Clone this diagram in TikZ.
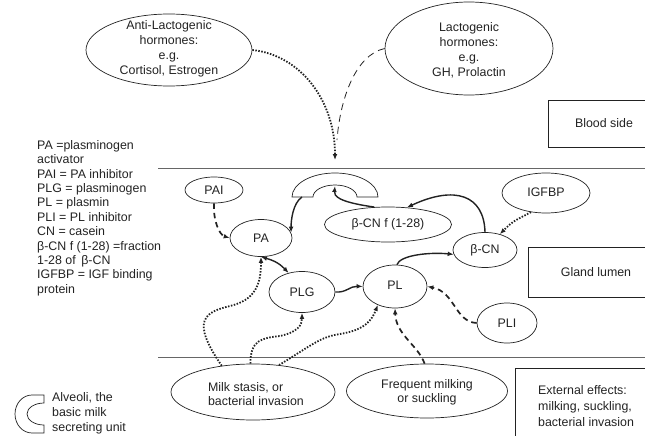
\documentclass[tikz,border=0pt]{standalone}
\usepackage{fontspec}
\setmainfont{Liberation Sans}
\usetikzlibrary{shapes.geometric,arrows.meta}
\definecolor{ink}{HTML}{222222}
\definecolor{rule}{HTML}{666666}
\tikzset{
  ell/.style={draw=ink, ellipse, line width=0.7pt, inner sep=0pt},
  txt/.style={text=ink, align=center, inner sep=0pt, font=\fontsize{12.4}{15}\selectfont},
  ltxt/.style={text=ink, align=left, inner sep=0pt, font=\fontsize{12.4}{14.4}\selectfont},
  boxline/.style={draw=ink, line width=0.7pt},
  tip/.style={-{Latex[length=6pt,width=4.8pt]}},
  solidarr/.style={tip, draw=ink, line width=1.4pt},
  dotarr/.style={tip, draw=ink, line width=1.8pt, dash pattern=on 1.5pt off 1.5pt},
  dasharr/.style={tip, draw=ink, line width=1.7pt, dash pattern=on 5.5pt off 4pt},
  thindash/.style={draw=ink, line width=0.8pt, dash pattern=on 7pt off 5pt},
}
\begin{document}
\begin{tikzpicture}[x=1pt,y=-1pt]
\useasboundingbox (0,0) rectangle (645,436);

% hormone ellipses
\node[ell, minimum width=166, minimum height=72] (anti) at (169,50) {};
\node[txt] (antit) at (169,49) {Anti-Lactogenic\\hormones:\\e.g.\\Cortisol, Estrogen};
\node[ell, minimum width=168, minimum height=93] (lac) at (469,48.5) {};
\node[txt] (lact) at (469,50) {Lactogenic\\hormones:\\e.g.\\GH, Prolactin};

% boxes
\draw[boxline] (647,100) -- (548,100) -- (548,147) -- (647,147);
\node[txt] (blood) at (604,123) {Blood side};
\draw[boxline] (647,247) -- (528,247) -- (528,297) -- (647,297);
\node[txt] (gland) at (596,272) {Gland lumen};
\draw[boxline] (515,440) -- (515,368) -- (647,368);
\node[ltxt, anchor=west, font=\fontsize{12.4}{16}\selectfont] (ext) at (538,406) {External effects:\\milking, suckling,\\bacterial invasion};

% membranes
\coordinate (l1a) at (158,168); \coordinate (l1b) at (646,168);
\coordinate (l2a) at (158,357); \coordinate (l2b) at (646,357);
\draw[rule, line width=1pt] (l1a) -- (l1b);
\draw[rule, line width=1pt] (l2a) -- (l2b);

% legend
\node[ltxt, anchor=west] (legend) at (37,218) {PA =plasminogen\\activator\\PAI = PA inhibitor\\PLG = plasminogen\\PL = plasmin\\PLI = PL inhibitor\\CN = casein\\β-CN f (1-28) =fraction\\1-28 of\, β-CN\\IGFBP = IGF binding\\protein};

% small alveoli symbol
\draw[draw=ink, line width=0.7pt, fill=white] (44,395) -- (32,395) arc[start angle=270, end angle=90, x radius=17, y radius=19] -- (44,433) -- (44,425) arc[start angle=90, end angle=270, x radius=17, y radius=11] -- cycle;
\node[ltxt, anchor=west, font=\fontsize{12.4}{15}\selectfont] (alvtxt) at (52,413.5) {Alveoli, the\\basic milk\\secreting unit};

% big alveoli
\draw[draw=ink, line width=0.7pt, fill=white] (292,197) arc[start angle=180, end angle=360, x radius=43, y radius=24] -- (357,197) arc[start angle=0, end angle=-180, x radius=22, y radius=12] -- cycle;
\coordinate (alvL) at (302,197);
\coordinate (alvT) at (335,186);

% nodes
\node[ell, minimum width=58, minimum height=26] (pai) at (214,190) {};
\node[txt] (pait) at (pai) {PAI};
\node[ell, minimum width=62, minimum height=37] (pa) at (261,238) {};
\node[txt] (pat) at (pa) {PA};
\node[ell, minimum width=127, minimum height=35] (bcnf) at (388,224.5) {};
\node[txt] (bcnft) at (bcnf) {β-CN f (1-28)};
\node[ell, minimum width=66, minimum height=41] (plg) at (302,292) {};
\node[txt] (plgt) at (plg) {PLG};
\node[ell, minimum width=64, minimum height=43] (pl) at (395,286.5) {};
\node[txt] (plt) at (395,285) {PL};
\node[ell, minimum width=64, minimum height=35] (bcn) at (485,250) {};
\node[txt] (bcnt) at (bcn) {β-CN};
\node[ell, minimum width=88, minimum height=40] (igf) at (546,193) {};
\node[txt] (igft) at (546,192) {IGFBP};
\node[ell, minimum width=60, minimum height=40] (pli) at (507,323) {};
\node[txt] (plit) at (pli) {PLI};
\node[ell, minimum width=164, minimum height=56] (milk) at (253,392) {};
\node[ltxt, font=\fontsize{12.4}{14}\selectfont] (milkt) at (256,394) {Milk stasis, or\\bacterial invasion};
\node[ell, minimum width=161, minimum height=54] (freq) at (427,391) {};
\node[txt, font=\fontsize{12.4}{14}\selectfont] (freqt) at (427,392) {Frequent milking\\or suckling};

% hormone connectors
\coordinate (hin) at (335,160);
\coordinate (lacend) at (337,140);
\draw[dotarr] (anti.east) .. controls (300,55) and (335,100) .. (hin);
\draw[thindash] (lac.west) .. controls (355,55) and (340,100) .. (lacend);

% connectors
\draw[dasharr] (pai.south) .. controls (213,222) and (220,235) .. (pa.west);
\draw[solidarr] (alvL) .. controls (293,203) and (291,220) .. (pa.10);
\draw[solidarr] (bcnf.128) .. controls (338,202) and (334,196) .. (alvT);
\draw[solidarr] (bcn.north) .. controls (484,195) and (455,185) .. (bcnf.42);
\draw[dotarr] (igf.232) .. controls (512,222) .. (bcn.47);
\draw[solidarr] (pl.85) .. controls (400,255) and (430,252) .. (bcn.188);
\draw[solidarr] (plg.east) .. controls (346,293) and (350,286) .. (pl.west);
\draw[solidarr, {Latex[length=6pt,width=4.8pt]}-{Latex[length=6pt,width=4.8pt]}] (pa.south) .. controls (272,260) and (278,262) .. (plg.125);
\draw[dasharr] (pli.west) .. controls (455,322) and (455,292) .. (pl.east);
\draw[dasharr] (freq.95) .. controls (418,345) and (396,335) .. (pl.south);
\draw[dotarr] (milk.140) .. controls (190,320) and (205,312) .. (230,306) .. controls (255,300) and (261,285) .. (pa.south);
\draw[dotarr] (milk.95) .. controls (250,340) and (262,338) .. (280,336) .. controls (298,332) and (302,325) .. (plg.south);
\draw[dotarr] (milk.46) .. controls (312,345) and (320,337) .. (340,334) .. controls (365,330) and (372,320) .. (pl.227);
\end{tikzpicture}
\end{document}
